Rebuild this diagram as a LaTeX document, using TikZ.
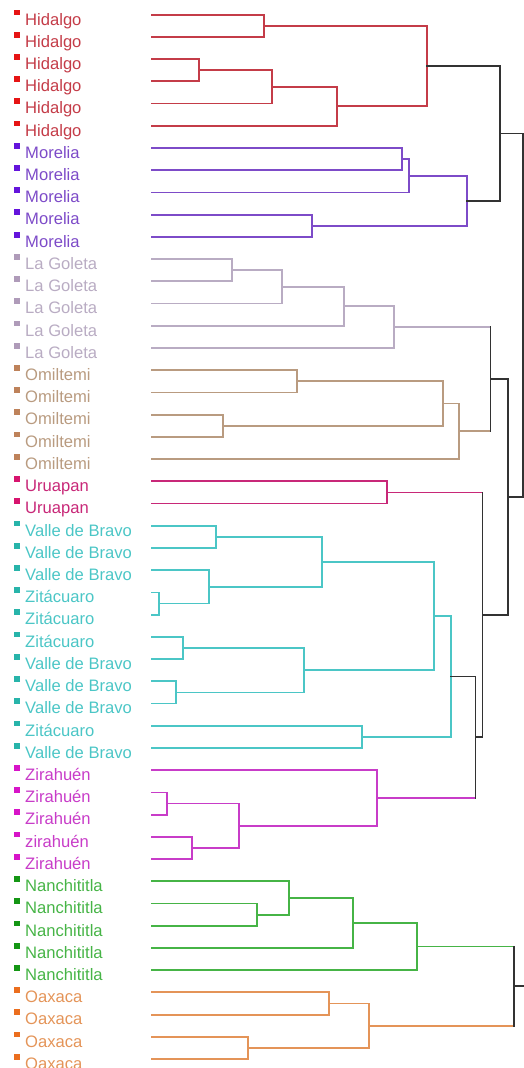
\documentclass[tikz,border=0pt]{standalone}
\usepackage{fontspec}
\setmainfont{Liberation Sans}
\usetikzlibrary{calc}
\definecolor{hid}{RGB}{196,60,72}\definecolor{hidS}{RGB}{230,20,20}
\definecolor{mor}{RGB}{125,75,200}\definecolor{morS}{RGB}{100,20,220}
\definecolor{lg}{RGB}{185,172,195}\definecolor{lgS}{RGB}{175,155,185}
\definecolor{om}{RGB}{185,155,128}\definecolor{omS}{RGB}{190,130,90}
\definecolor{ur}{RGB}{200,40,120}\definecolor{urS}{RGB}{215,20,110}
\definecolor{cy}{RGB}{75,198,198}\definecolor{cyS}{RGB}{40,180,170}
\definecolor{zi}{RGB}{200,60,200}\definecolor{ziS}{RGB}{215,20,200}
\definecolor{na}{RGB}{70,180,70}\definecolor{naS}{RGB}{20,150,20}
\definecolor{oa}{RGB}{228,148,88}\definecolor{oaS}{RGB}{235,110,30}
\definecolor{dk}{RGB}{50,50,50}
\newcommand\mrg[5]{%
  \coordinate (m#1) at ($(#3)!0.5!(#4)$);
  \coordinate (#1) at (#2,0 |- m#1);
  \draw[link,#5] (#3) -| (#1) |- (#4);}
\newcommand\mrgk[6]{%
  \coordinate (m#1) at ($(#3)!0.5!(#4)$);
  \coordinate (#1) at (#2,0 |- m#1);
  \draw[link,#5] (#3) -- (#3 -| #1);
  \draw[link,#6] (#4) -- (#4 -| #1);
  \draw[link,dk] (#3 -| #1) -- (#4 -| #1);}
\begin{document}
\begin{tikzpicture}[x=1pt,y=-1pt,
  link/.style={line width=1.8pt,line cap=rect},
  leaflabel/.style={anchor=base west,inner sep=0pt,font=\fontsize{16.6}{18}\selectfont},
  marker/.style={minimum width=6.2pt,minimum height=5.8pt,inner sep=0pt}]
\useasboundingbox (0,0) rectangle (524,1068);
\foreach \i/\t/\c in {0/Hidalgo/hid,1/Hidalgo/hid,2/Hidalgo/hid,3/Hidalgo/hid,4/Hidalgo/hid,5/Hidalgo/hid,
  6/Morelia/mor,7/Morelia/mor,8/Morelia/mor,9/Morelia/mor,10/Morelia/mor,
  11/La Goleta/lg,12/La Goleta/lg,13/La Goleta/lg,14/La Goleta/lg,15/La Goleta/lg,
  16/Omiltemi/om,17/Omiltemi/om,18/Omiltemi/om,19/Omiltemi/om,20/Omiltemi/om,
  21/Uruapan/ur,22/Uruapan/ur,
  23/Valle de Bravo/cy,24/Valle de Bravo/cy,25/Valle de Bravo/cy,26/Zitácuaro/cy,27/Zitácuaro/cy,
  28/Zitácuaro/cy,29/Valle de Bravo/cy,30/Valle de Bravo/cy,31/Valle de Bravo/cy,32/Zitácuaro/cy,33/Valle de Bravo/cy,
  34/Zirahuén/zi,35/Zirahuén/zi,36/Zirahuén/zi,37/zirahuén/zi,38/Zirahuén/zi,
  39/Nanchititla/na,40/Nanchititla/na,41/Nanchititla/na,42/Nanchititla/na,43/Nanchititla/na,
  44/Oaxaca/oa,45/Oaxaca/oa,46/Oaxaca/oa,47/Oaxaca/oa}{
  \coordinate (L\i) at (152,{14.7+22.22*\i});
  \node[marker,fill=\c S] (S\i) at (16.6,{12.4+22.22*\i}) {};
  \node[leaflabel,text=\c] (T\i) at (25,{25.0+22.22*\i}) {\t};
}
% Hidalgo
\mrg{h1}{264}{L0}{L1}{hid}
\mrg{h2}{199.3}{L2}{L3}{hid}
\mrg{h3}{272}{h2}{L4}{hid}
\mrg{h4}{336.7}{h3}{L5}{hid}
\mrg{H}{426.7}{h1}{h4}{hid}
% Morelia
\mrg{m1}{401.7}{L6}{L7}{mor}
\mrg{m2}{409.3}{m1}{L8}{mor}
\mrg{m3}{312.3}{L9}{L10}{mor}
\mrg{M}{466.7}{m2}{m3}{mor}
\mrgk{HM}{500}{H}{M}{dk}{dk}
% La Goleta
\mrg{g1}{231.7}{L11}{L12}{lg}
\mrg{g2}{281.7}{g1}{L13}{lg}
\mrg{g3}{344.3}{g2}{L14}{lg}
\mrg{G}{394.3}{g3}{L15}{lg}
% Omiltemi
\mrg{o1}{296.7}{L16}{L17}{om}
\mrg{o2}{223.3}{L18}{L19}{om}
\mrg{o3}{442.7}{o1}{o2}{om}
\mrg{O}{459.3}{o3}{L20}{om}
\mrgk{GO}{490.5}{G}{O}{lg}{om}
% Uruapan
\mrg{U}{386.7}{L21}{L22}{ur}
% Valle de Bravo / Zitacuaro
\mrg{c1}{216}{L23}{L24}{cy}
\mrg{c2}{159.3}{L26}{L27}{cy}
\mrg{c3}{209}{L25}{c2}{cy}
\mrg{c4}{321.7}{c1}{c3}{cy}
\mrg{c5}{183.3}{L28}{L29}{cy}
\mrg{c6}{175.7}{L30}{L31}{cy}
\mrg{c7}{304.3}{c5}{c6}{cy}
\mrg{c8}{434.3}{c4}{c7}{cy}
\mrg{c9}{361.7}{L32}{L33}{cy}
\mrg{C}{450.7}{c8}{c9}{cy}
% Zirahuen
\mrg{z1}{166.7}{L35}{L36}{zi}
\mrg{z2}{191.7}{L37}{L38}{zi}
\mrg{z3}{239.3}{z1}{z2}{zi}
\mrg{Z}{377.3}{L34}{z3}{zi}
\mrgk{CZ}{475.5}{C}{Z}{dk}{zi}
\mrgk{UCZ}{482.5}{U}{CZ}{ur}{dk}
\mrgk{GU}{508}{GO}{UCZ}{dk}{dk}
\mrgk{TOP}{523.3}{HM}{GU}{dk}{dk}
% Nanchititla
\mrg{n1}{256.7}{L40}{L41}{na}
\mrg{n2}{289}{L39}{n1}{na}
\mrg{n3}{353.3}{n2}{L42}{na}
\mrg{N}{417.3}{n3}{L43}{na}
% Oaxaca
\mrg{x1}{329.3}{L44}{L45}{oa}
\mrg{x2}{248.3}{L46}{L47}{oa}
\mrg{X}{369.3}{x1}{x2}{oa}
\mrgk{NX}{514}{N}{X}{na}{oa}
\coordinate (NXend) at (530,0 |- NX);
\draw[link,dk] (NX) -- (NXend);
\end{tikzpicture}
\end{document}
